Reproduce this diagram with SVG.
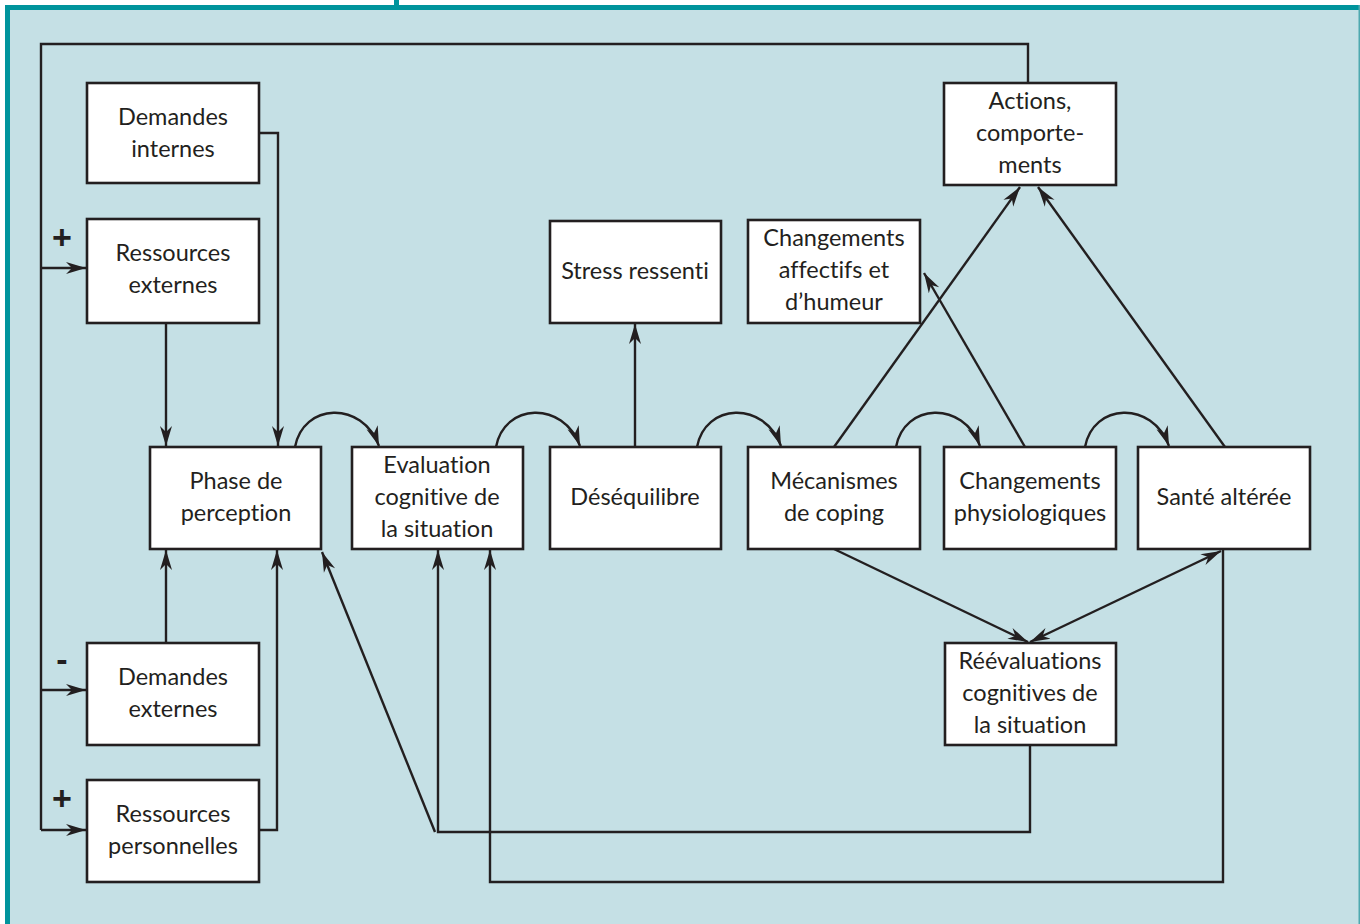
<svg xmlns="http://www.w3.org/2000/svg" width="1360" height="924" viewBox="0 0 1360 924">
<defs>
<marker id="ah" markerUnits="userSpaceOnUse" markerWidth="22" markerHeight="14" viewBox="0 0 22 14" refX="20" refY="7" orient="auto-start-reverse">
<path d="M0,1 L20,7 L0,13 L6,7 z" fill="#231f20"/>
</marker>
<style>
.box{fill:#fff;stroke:#231f20;stroke-width:2.6}
.t{font-family:Lato,"Open Sans","Liberation Sans",sans-serif;font-size:23.5px;fill:#231f20;text-anchor:middle;font-variant-ligatures:none}
.c{fill:none;stroke:#231f20;stroke-width:2.4}
.a{marker-end:url(#ah)}
.sign{font-family:"Liberation Sans",Arial,sans-serif;font-size:34px;font-weight:bold;fill:#231f20;text-anchor:middle}
</style>
</defs>
<rect x="0" y="0" width="1360" height="924" fill="#ffffff"/>
<rect x="5" y="5" width="1355" height="919" fill="#c5e0e5"/>
<rect x="5" y="5" width="5" height="919" fill="#00949c"/>
<rect x="5" y="5" width="1355" height="5" fill="#00949c"/>
<rect x="394" y="0" width="5" height="6" fill="#00949c"/>
<rect x="1358.5" y="5" width="1.5" height="919" fill="#4fa9b0"/>

<g id="connectors">
<path class="c" d="M1028,83 V44 H41 V830"/>
<path class="c a" d="M41,268 H86"/>
<path class="c a" d="M41,690 H86"/>
<path class="c a" d="M41,830 H86"/>
<path class="c a" d="M259,133 H278 V446"/>
<path class="c a" d="M166,323 V446"/>
<path class="c a" d="M166,643 V550"/>
<path class="c a" d="M259,830 H277 V550"/>
<path class="c a" d="M295,447 C303,403 362,400 379,446"/>
<path class="c a" d="M496,447 C504,403 563,400 580,446"/>
<path class="c a" d="M697,447 C705,403 764,400 781,446"/>
<path class="c a" d="M896,447 C904,403 963,400 980,446"/>
<path class="c a" d="M1085,447 C1093,403 1152,400 1169,446"/>
<path class="c a" d="M635,447 V324"/>
<path class="c a" d="M834,447 L1020,187"/>
<path class="c a" d="M1025,447 L924,273"/>
<path class="c a" d="M1225,447 L1038,187"/>
<path class="c a" d="M834,549 L1028,642"/>
<path class="c a" style="marker-start:url(#ah)" d="M1030,642 L1221,551"/>
<path class="c a" d="M1223,549 V882 H490 V550"/>
<path class="c a" d="M1030,745 V832 H438 V550"/>
<path class="c a" d="M435,832 L322,552"/>
</g>

<text class="sign" x="62" y="249">+</text>
<text class="sign" x="62" y="671">-</text>
<text class="sign" x="62" y="810">+</text>

<g id="demandes-internes"><rect class="box" x="87" y="83" width="172" height="100"/><text class="t" x="173" y="125">Demandes</text><text class="t" x="173" y="157">internes</text></g>
<g id="ressources-externes"><rect class="box" x="87" y="219" width="172" height="104"/><text class="t" x="173" y="261">Ressources</text><text class="t" x="173" y="293">externes</text></g>
<g id="phase-perception"><rect class="box" x="150" y="447" width="171" height="102"/><text class="t" x="236" y="489">Phase de</text><text class="t" x="236" y="521">perception</text></g>
<g id="evaluation"><rect class="box" x="352" y="447" width="171" height="102"/><text class="t" x="437" y="473">Evaluation</text><text class="t" x="437" y="505">cognitive de</text><text class="t" x="437" y="537">la situation</text></g>
<g id="desequilibre"><rect class="box" x="550" y="447" width="171" height="102"/><text class="t" x="635" y="505">Déséquilibre</text></g>
<g id="mecanismes"><rect class="box" x="748" y="447" width="172" height="102"/><text class="t" x="834" y="489">Mécanismes</text><text class="t" x="834" y="521">de coping</text></g>
<g id="changements-physio"><rect class="box" x="944" y="447" width="172" height="102"/><text class="t" x="1030" y="489">Changements</text><text class="t" x="1030" y="521">physiologiques</text></g>
<g id="sante"><rect class="box" x="1138" y="447" width="172" height="102"/><text class="t" x="1224" y="505">Santé altérée</text></g>
<g id="stress"><rect class="box" x="550" y="221" width="171" height="102"/><text class="t" x="635" y="279">Stress ressenti</text></g>
<g id="changements-affectifs"><rect class="box" x="748" y="220" width="172" height="103"/><text class="t" x="834" y="246">Changements</text><text class="t" x="834" y="278">affectifs et</text><text class="t" x="834" y="310">d’humeur</text></g>
<g id="actions"><rect class="box" x="944" y="83" width="172" height="102"/><text class="t" x="1030" y="109">Actions,</text><text class="t" x="1030" y="141">comporte-</text><text class="t" x="1030" y="173">ments</text></g>
<g id="reevaluations"><rect class="box" x="945" y="643" width="171" height="102"/><text class="t" x="1030" y="669">Réévaluations</text><text class="t" x="1030" y="701">cognitives de</text><text class="t" x="1030" y="733">la situation</text></g>
<g id="demandes-externes"><rect class="box" x="87" y="643" width="172" height="102"/><text class="t" x="173" y="685">Demandes</text><text class="t" x="173" y="717">externes</text></g>
<g id="ressources-personnelles"><rect class="box" x="87" y="780" width="172" height="102"/><text class="t" x="173" y="822">Ressources</text><text class="t" x="173" y="854">personnelles</text></g>
</svg>
